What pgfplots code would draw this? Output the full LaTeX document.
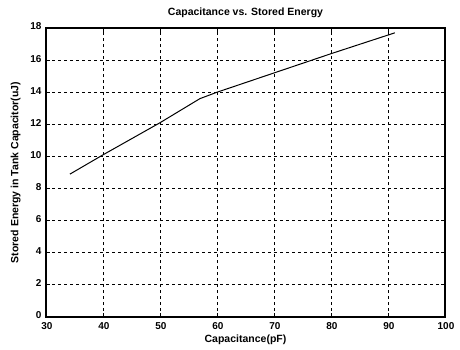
\documentclass[border=0pt]{standalone}
\usepackage{pgfplots}
\pgfplotsset{compat=1.18}
\usepackage{fontspec}
\setmainfont{Liberation Sans}
\begin{document}
\begin{tikzpicture}
\path[use as bounding box] (-46pt,-32pt) rectangle (414pt,317pt);
\begin{axis}[
  at={(0pt,0pt)}, anchor=south west,
  scale only axis,
  width=399pt, height=289pt,
  xmin=30, xmax=100, ymin=0, ymax=18,
  xtick={30,40,...,100}, ytick={0,2,...,18},
  grid=major,
  major grid style={black, dash pattern=on 3pt off 3pt, line width=0.9pt},
  axis line style={line width=1.3pt},
  tick style={black, line width=0.9pt},
  major tick length=4pt,
  tick align=inside,
  /pgf/number format/assume math mode=true,
  tick label style={font=\fontsize{10}{11}\selectfont\bfseries},
  xticklabel style={yshift=-1.5pt, xshift=1pt},
  yticklabel style={xshift=-1pt, yshift=1.5pt},
  label style={font=\fontsize{10.5}{12}\selectfont\bfseries},
  title style={font=\fontsize{10.5}{12}\selectfont\bfseries, at={(0.5,1)}, yshift=1pt},
  title={Capacitance vs. Stored Energy},
  xlabel={Capacitance(pF)},
  ylabel={Stored Energy in Tank Capacitor(uJ)},
  xlabel style={yshift=1pt},
  ylabel style={yshift=3pt},
]
\addplot[black, line width=1pt] coordinates {
(34.2,8.9) (40,10.1) (50,12.1) (57,13.6) (60,14.0) (70,15.2) (80,16.4) (91.2,17.7)
};
\end{axis}
\end{tikzpicture}
\end{document}
